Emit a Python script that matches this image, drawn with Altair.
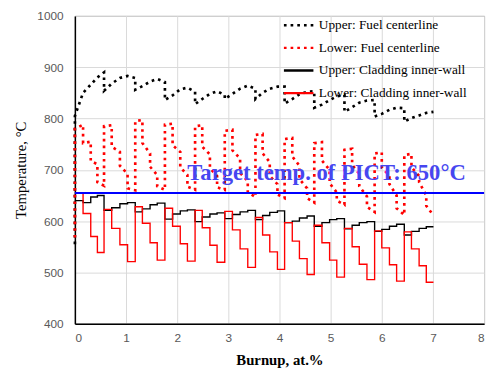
import altair as alt
import pandas as pd

series_names = ["Upper: Fuel centerline", "Lower: Fuel centerline",
                "Upper: Cladding inner-wall", "Lower: Cladding inner-wall"]
series_colors = ["#000000", "#ff0000", "#000000", "#ff0000"]
series_dash = [[2.7, 4.1], [2.7, 4.1], [1, 0], [1, 0]]

# burnup positions of every power step (4 steps per cycle, 12 cycles) + end
step_x = [0.00, 0.16, 0.31, 0.44,
          0.57, 0.72, 0.88, 1.03,
          1.18, 1.32, 1.47, 1.61,
          1.76, 1.91, 2.06, 2.20,
          2.35, 2.49, 2.64, 2.78,
          2.93, 3.08, 3.23, 3.38,
          3.53, 3.67, 3.81, 3.96,
          4.10, 4.25, 4.39, 4.54,
          4.68, 4.83, 4.98, 5.12,
          5.27, 5.42, 5.56, 5.71,
          5.86, 6.00, 6.15, 6.29,
          6.44, 6.58, 6.73, 6.87,
          7.01]

# Upper fuel centerline: start value, then cycle start / 3 step points / cycle end
fuel_upper_start = [555]
fuel_upper = [805, 850, 866, 880, 890,
              854, 868, 879, 883, 879,
              856, 863, 872, 877, 871,
              836, 845, 857, 860, 852,
              828, 838, 848, 853, 846,
              838, 848, 858, 864, 858,
              838, 850, 858, 862, 862,
              829, 838, 847, 852, 853,
              821, 827, 836, 843, 846,
              813, 822, 831, 835, 836,
              804, 809, 817, 821, 820,
              794, 801, 806, 811, 813]

# Lower fuel centerline: begin / end value of each step
fuel_lower_start = [568]
fuel_lower = [780, 788, 752, 755, 717, 711, 676, 669,
              785, 787, 745, 735, 708, 692, 664, 660,
              795, 797, 752, 732, 706, 690, 668, 661,
              788, 790, 748, 735, 705, 690, 667, 661,
              785, 787, 745, 730, 703, 688, 666, 661,
              776, 778, 738, 722, 694, 678, 656, 647,
              768, 770, 732, 715, 688, 672, 652, 645,
              760, 762, 726, 708, 682, 664, 645, 636,
              752, 754, 718, 700, 674, 656, 640, 632,
              739, 741, 710, 692, 668, 648, 628, 618,
              732, 734, 705, 688, 672, 650, 625, 612,
              729, 731, 705, 688, 676, 650, 630, 611]

clad_upper = [640, 636, 647, 650,
              621, 626, 634, 636,
              618, 624, 632, 635,
              604, 614, 620, 622,
              599, 608, 614, 616,
              605, 613, 618, 621,
              603, 611, 617, 620,
              597, 600, 606, 610,
              590, 597, 603, 605,
              585, 592, 597, 599,
              580, 584, 590, 594,
              573, 580, 586, 589]

clad_lower = [655, 615, 570, 539,
              623, 586, 554, 521,
              628, 596, 558, 524,
              625, 590, 556, 522,
              621, 587, 553, 520,
              619, 583, 546, 510,
              607, 573, 540, 506,
              597, 561, 527, 496,
              592, 558, 524, 491,
              586, 550, 516, 486,
              581, 548, 515, 483,
              579, 546, 513, 481]

x_ticks = [0, 1, 2, 3, 4, 5, 6, 7, 8]
y_ticks = [400, 500, 600, 700, 800, 900, 1000]
target_temp = [655]
target_text = ["Target temp. of PICT: 650°C"]
target_text_x = [4.92]
target_text_y = [681]

rows = []


def add(name, xs, ys):
    for i, (xv, yv) in enumerate(zip(xs, ys)):
        rows.append({"series": name, "x": xv, "y": yv, "order": i})


n_cyc = 12
xs = [0.0]
for c in range(n_cyc):
    xs += step_x[4 * c:4 * c + 5]
add(series_names[0], xs, fuel_upper_start + fuel_upper)

xs = [0.0]
for k in range(4 * n_cyc):
    xs += [step_x[k], step_x[k + 1]]
add(series_names[1], xs, fuel_lower_start + fuel_lower)

add(series_names[2], step_x, clad_upper + [clad_upper[-1]])
add(series_names[3], step_x, clad_lower + [clad_lower[-1]])

df = pd.DataFrame(rows)
fuel_df = df[df.series.isin(series_names[:2])]
clad_df = df[df.series.isin(series_names[2:])]

legend = alt.Legend(orient="none", legendX=211, legendY=-7, title=None,
                    symbolType="stroke", symbolSize=900, symbolStrokeWidth=2.4,
                    labelFont="Liberation Serif", labelFontSize=13.5,
                    labelColor="#000000", labelOffset=4, rowPadding=-2.2,
                    padding=0)

xenc = alt.X("x:Q", scale=alt.Scale(domain=[0, 8], nice=False),
             axis=alt.Axis(values=x_ticks, title="Burnup, at.%", format="d",
                           titleFont="Liberation Serif", titleFontSize=15,
                           titleFontWeight="bold", titleColor="#000000",
                           titlePadding=9, labelPadding=9))
yenc = alt.Y("y:Q", scale=alt.Scale(domain=[400, 1000], nice=False, zero=False),
             axis=alt.Axis(values=y_ticks, title="Temperature, °C", format="d",
                           titleFont="Liberation Serif", titleFontSize=15,
                           titleFontWeight="normal", titleColor="#000000",
                           titlePadding=8, labelPadding=12))
cenc = alt.Color("series:N", scale=alt.Scale(domain=series_names, range=series_colors),
                 legend=legend)
denc = alt.StrokeDash("series:N", scale=alt.Scale(domain=series_names, range=series_dash),
                      legend=legend)

fuel = alt.Chart(fuel_df).mark_line(strokeWidth=2.7).encode(
    x=xenc, y=yenc, color=cenc, strokeDash=denc, order="order:Q")
clad = alt.Chart(clad_df).mark_line(interpolate="step-after", strokeWidth=1.4).encode(
    x=xenc, y=yenc, color=cenc, strokeDash=denc, order="order:Q")

rule = alt.Chart(pd.DataFrame({"y": target_temp})).mark_rule(
    color="#0000ff", strokeWidth=2).encode(y="y:Q")

label = alt.Chart(pd.DataFrame({"x": target_text_x, "y": target_text_y,
                                "t": target_text})).mark_text(
    align="center", baseline="alphabetic", font="Liberation Serif",
    fontWeight="bold", fontSize=23, color="#4646f0").encode(
    x="x:Q", y="y:Q", text="t:N")

chart = alt.layer(fuel, clad, rule, label).properties(
    width=416, height=313,
    autosize=alt.AutoSizeParams(type="none"),
    padding={"left": 68, "top": 5, "right": 5, "bottom": 45},
).configure_view(stroke="#808080", strokeWidth=1).configure_axis(
    grid=True, gridColor="#d9d9d9", gridWidth=1, ticks=False,
    domainColor="#000000", domainWidth=1.5,
    labelFont="Liberation Sans", labelFontSize=12, labelColor="#595959",
)

chart.save("out.html", embed_options={"renderer": "svg", "actions": False})
